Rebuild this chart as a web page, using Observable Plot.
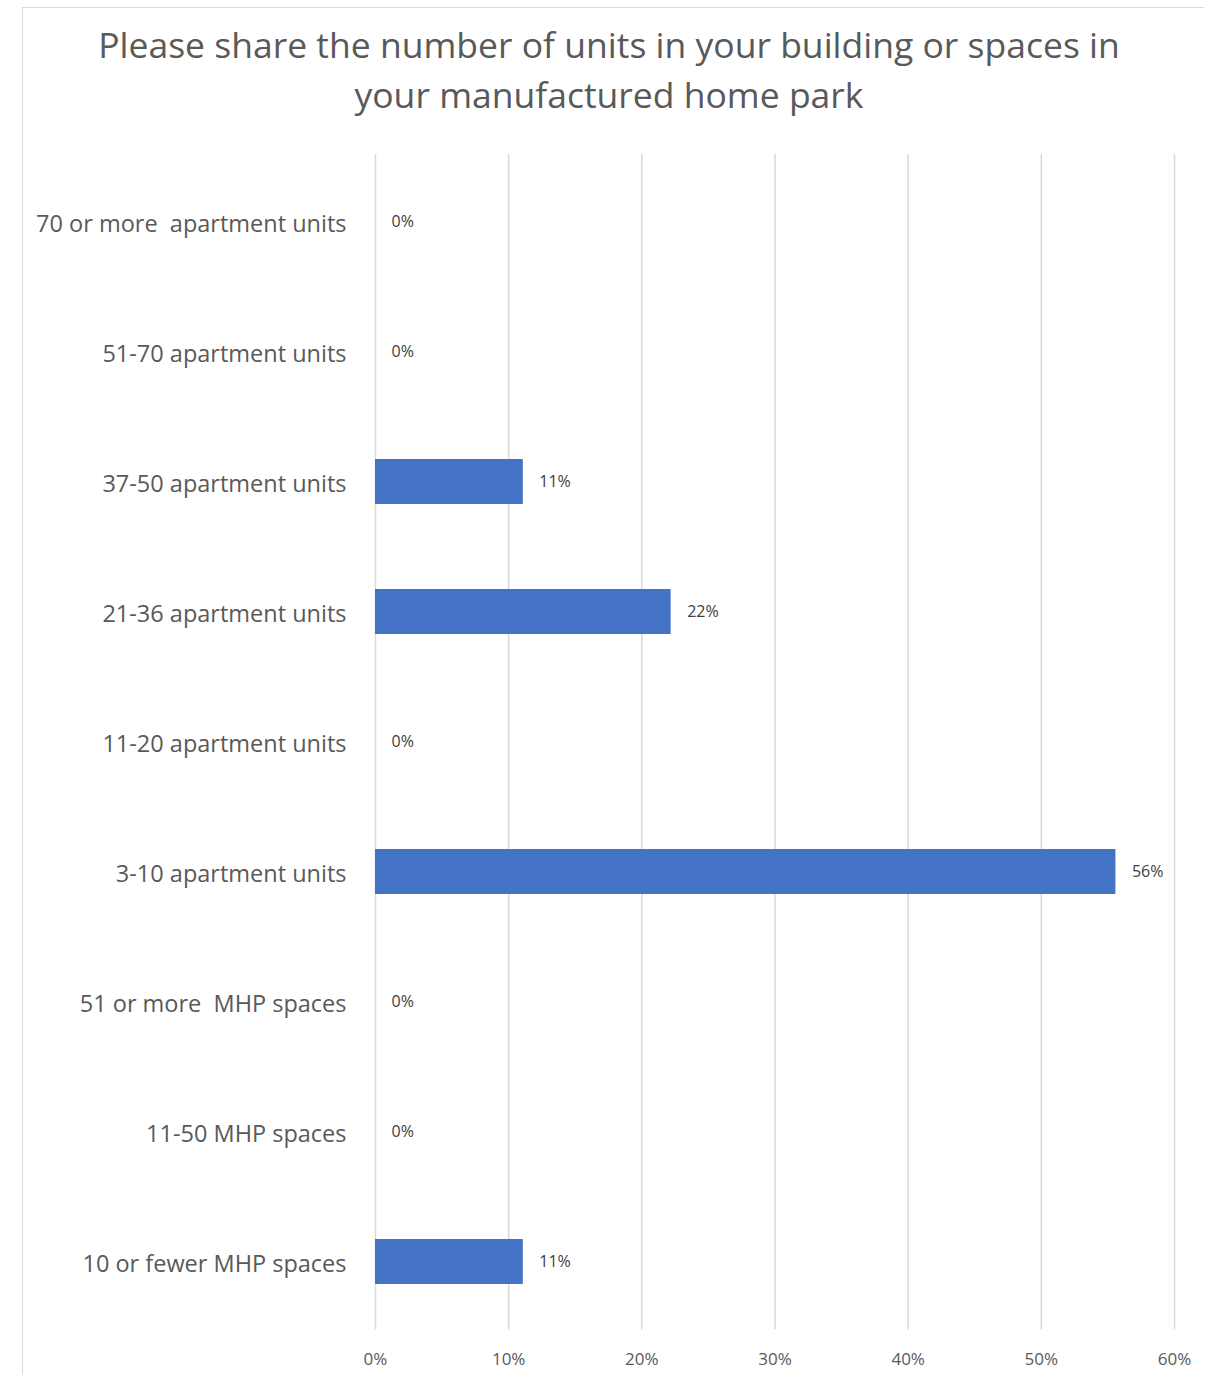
<!DOCTYPE html>
<html>
<head>
<meta charset="utf-8">
<script src="https://cdn.jsdelivr.net/npm/d3@7"></script>
<script src="https://cdn.jsdelivr.net/npm/@observablehq/plot@0.6"></script>
<style>
  html, body { margin: 0; padding: 0; background: #fff; }
  body { width: 1215px; height: 1375px; position: relative; overflow: hidden; font-family: "Open Sans", sans-serif; }
  #frame { position: absolute; left: 22px; top: 7px; width: 1181px; height: 1380px; border-top: 1.5px solid #d9d9d9; border-left: 1.5px solid #d9d9d9; }
  #title { position: absolute; left: 0; top: 19px; width: 1218px; text-align: center; font-size: 35.5px; line-height: 50px; color: #595959; }
  #chart { position: absolute; left: 0; top: 140px; }
</style>
</head>
<body>
<div id="frame"></div>
<div id="title">Please share the number of units in your building or spaces in<br>your manufactured home park</div>
<div id="chart"></div>
<script>
const categories = [
  "70 or more  apartment units",
  "51-70 apartment units",
  "37-50 apartment units",
  "21-36 apartment units",
  "11-20 apartment units",
  "3-10 apartment units",
  "51 or more  MHP spaces",
  "11-50 MHP spaces",
  "10 or fewer MHP spaces"
];
const values = [0, 0, 0.111, 0.222, 0, 0.556, 0, 0, 0.111];
const xTicks = [0, 0.1, 0.2, 0.3, 0.4, 0.5, 0.6];

const data = categories.map((c, i) => ({category: c, value: values[i]}));
const pct = v => Math.round(v * 100) + "%";

const chart = Plot.plot({
  width: 1215,
  height: 1235,
  marginTop: 14,
  marginBottom: 45.5,
  marginLeft: 375,
  marginRight: 41,
  style: { fontFamily: "'Open Sans', sans-serif", color: "#595959", background: "transparent" },
  x: { domain: [0, 0.6], ticks: xTicks, tickFormat: pct, label: null },
  y: { domain: categories, paddingInner: 0.655, paddingOuter: 0.3275, label: null },
  marks: [
    Plot.gridX(xTicks, { stroke: "#d9d9d9", strokeOpacity: 1, strokeWidth: 1.5 }),
    Plot.axisX(xTicks, { tickSize: 0, tickPadding: 22.5, fontSize: 17, fill: "#595959", tickFormat: pct }),
    Plot.axisY({ tickSize: 0, tickPadding: 29, fontSize: 23.5, fill: "#595959", dy: 2 }),
    Plot.barX(data, { x: "value", y: "category", fill: "#4472C4" }),
    Plot.text(data, { x: "value", y: "category", text: d => pct(d.value), dx: 16, dy: 0, textAnchor: "start", fontSize: 16, fill: "#404040" })
  ]
});
document.getElementById("chart").appendChild(chart);
</script>
</body>
</html>
